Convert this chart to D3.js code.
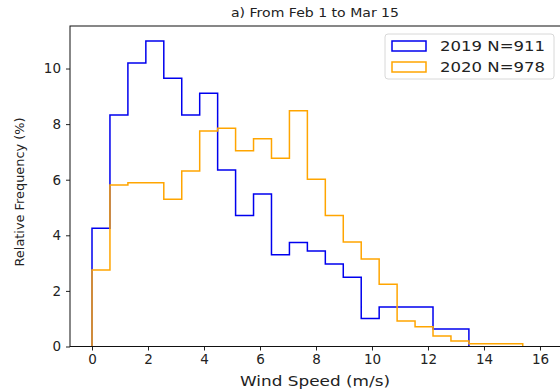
<!DOCTYPE html>
<html><head><meta charset="utf-8">
<script src="https://cdn.jsdelivr.net/npm/d3@7"></script>
<style>body{margin:0;background:#fff}svg{display:block}text{font-family:"DejaVu Sans",sans-serif}</style>
</head><body><svg id="c" width="560" height="390"></svg>
<script>
const binWidth = 0.641;
const values2019 = [4.25,8.33,10.2,10.99,9.65,8.33,9.11,6.35,4.71,5.49,3.3,3.74,3.44,2.97,2.49,1.01,1.42,1.42,1.42,0.63,0.63];
const values2020 = [2.75,5.81,5.89,5.89,5.3,6.31,7.75,7.85,7.04,7.47,6.77,8.48,6.02,4.71,3.76,3.15,2.24,0.92,0.71,0.38,0.2,0.1,0.1,0.1];
const seriesNames = ["2019 N=911","2020 N=978"];
const xTicks = [0,2,4,6,8,10,12,14,16];
const yTicks = [0,2,4,6,8,10];

const svg = d3.select("#c");
const L=70, R=562, T=26, B=346.5;
const x = d3.scaleLinear().domain([-0.786,16.786]).range([L,R]);
const y = d3.scaleLinear().domain([0,11.53]).range([B,T]);

function stepPath(vals){
  const pts=[[0,0]];
  vals.forEach((v,i)=>{pts.push([i*binWidth,v]);pts.push([(i+1)*binWidth,v]);});
  pts.push([vals.length*binWidth,0]);
  return d3.line().x(d=>x(d[0])).y(d=>y(d[1]))(pts);
}
const colors=["#0000ee","#ffa500"];
[values2019,values2020].forEach((v,i)=>{
  svg.append("path").attr("d",stepPath(v)).attr("fill","none").attr("stroke",colors[i]).attr("stroke-width",1.5);
});

// axes
const xa = svg.append("g").attr("transform",`translate(0,${B})`).call(d3.axisBottom(x).tickValues(xTicks).tickSize(4).tickPadding(4).tickFormat(d3.format("d")));
const ya = svg.append("g").attr("transform",`translate(${L},0)`).call(d3.axisLeft(y).tickValues(yTicks).tickSize(4).tickPadding(5).tickFormat(d3.format("d")));
[xa,ya].forEach(a=>{a.select(".domain").remove();a.selectAll("text").attr("font-size",13.5).attr("fill","#222").attr("font-family","DejaVu Sans");a.selectAll("line").attr("stroke","#222");});
svg.append("rect").attr("x",L).attr("y",T).attr("width",R-L).attr("height",B-T).attr("fill","none").attr("stroke","#111").attr("stroke-width",1);

svg.append("text").attr("x",315).attr("y",17).attr("text-anchor","middle").attr("font-size",11.5).attr("fill","#222")
  .attr("textLength",168).attr("lengthAdjust","spacingAndGlyphs").text("a) From Feb 1 to Mar 15");
svg.append("text").attr("x",315).attr("y",386).attr("text-anchor","middle").attr("font-size",14).attr("fill","#222")
  .attr("textLength",150).attr("lengthAdjust","spacingAndGlyphs").text("Wind Speed (m/s)");
svg.append("text").attr("transform","translate(24,192) rotate(-90)").attr("text-anchor","middle").attr("font-size",13).attr("fill","#222")
  .attr("textLength",149).attr("lengthAdjust","spacingAndGlyphs").text("Relative Frequency (%)");

// legend
const lg = svg.append("g");
lg.append("rect").attr("x",385).attr("y",34).attr("width",169).attr("height",45).attr("rx",3).attr("fill","#fff").attr("fill-opacity",0.8).attr("stroke","#d8d8d8");
seriesNames.forEach((n,i)=>{
  lg.append("rect").attr("x",392).attr("y",41+i*21).attr("width",34).attr("height",10).attr("fill","none").attr("stroke",colors[i]).attr("stroke-width",1.5);
  lg.append("text").attr("x",440).attr("y",51+i*21).attr("font-size",14).attr("fill","#222")
    .attr("textLength",105).attr("lengthAdjust","spacingAndGlyphs").text(n);
});
</script></body></html>
